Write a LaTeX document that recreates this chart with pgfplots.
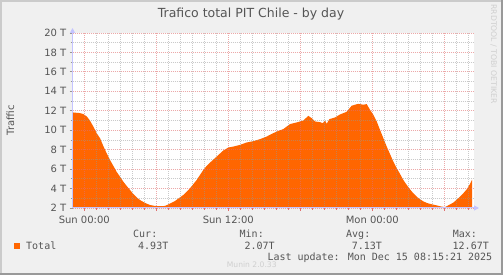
\documentclass[border=0pt]{standalone}
\usepackage{fontspec}
\setmainfont{DejaVu Sans}
\newfontfamily\monofont{DejaVu Sans Mono}
\usepackage{pgfplots}
\pgfplotsset{compat=1.18}
\usetikzlibrary{arrows.meta}
\definecolor{bg}{HTML}{F0F0F0}
\definecolor{shadea}{HTML}{CBCBCB}
\definecolor{shadeb}{HTML}{999999}
\definecolor{txt}{HTML}{555555}
\definecolor{area}{HTML}{FF6600}
\definecolor{axcol}{HTML}{C4C4FF}
\definecolor{mgrid}{HTML}{E07070}
\definecolor{ngrid}{HTML}{969696}
\definecolor{faint}{HTML}{CFCFCF}
\begin{document}
\begin{tikzpicture}
\useasboundingbox (0,0) rectangle (503bp,275bp);
\fill[bg] (0,0) rectangle (503bp,275bp);
\fill[shadea] (0,0) rectangle (2bp,275bp);
\fill[shadea] (0,273bp) rectangle (503bp,275bp);
\fill[shadeb] (501bp,0) rectangle (503bp,275bp);
\fill[shadeb] (0,0) rectangle (503bp,2bp);
\begin{axis}[
  at={(72.5bp,67bp)}, anchor=south west,
  scale only axis, width=401.5bp, height=175bp,
  xmin=-0.983, xmax=32.475, ymin=2, ymax=20,
  axis on top,
  axis background/.style={fill=white},
  axis x line*=bottom, axis y line*=left,
  x axis line style={draw=axcol, line width=1bp, -{Triangle[length=5bp,width=5bp]}, shorten >=-5bp},
  y axis line style={draw=axcol, line width=1bp, -{Triangle[length=5bp,width=5bp]}, shorten >=-5bp},
  xtick={0,6,12,18,24,30},
  xticklabels={Sun 00:00,{},Sun 12:00,{},Mon 00:00,{}},
  minor xtick={1,2,3,4,5,7,8,9,10,11,13,14,15,16,17,19,20,21,22,23,25,26,27,28,29,31,32},
  ytick={2,4,6,8,10,12,14,16,18,20},
  yticklabels={2 T,4 T,6 T,8 T,10 T,12 T,14 T,16 T,18 T,20 T},
  minor ytick={3,5,7,9,11,13,15,17,19},
  grid=both,
  major grid style={draw=mgrid, opacity=0.6, line width=0.8bp, dash pattern=on 1bp off 1bp},
  minor grid style={draw=ngrid, opacity=0.5, line width=0.8bp, dash pattern=on 1bp off 1bp},
  tick align=outside,
  major tick length=3bp, minor tick length=2bp,
  xtick style={draw=mgrid, line width=0.8bp},
  ytick style={draw=ngrid, line width=0.8bp},
  minor tick style={draw=ngrid},
  ticklabel style={font=\fontsize{10bp}{12bp}\selectfont, text=txt},
  xticklabel style={anchor=base, yshift=-13bp},
  yticklabel style={anchor=east, inner sep=0pt, xshift=-3bp},
  clip=true,
]
\addplot[fill=area, draw=none] coordinates {
(-0.983,11.83) (-0.36,11.76) (-0.08,11.66) (0.2,11.42) (0.47,11.0) (0.75,10.38)
(1.03,9.7) (1.31,9.18) (1.58,8.39) (1.86,7.64) (2.14,6.95) (2.42,6.33) (2.7,5.71)
(2.97,5.23) (3.25,4.71) (3.53,4.27) (3.81,3.86) (4.08,3.44) (4.36,3.1) (4.64,2.82)
(4.92,2.62) (5.2,2.45) (5.47,2.31) (5.89,2.21) (6.31,2.19) (6.72,2.21) (7.14,2.45)
(7.56,2.72) (8.25,3.34) (8.81,4.03) (9.37,4.89) (9.92,5.92) (10.2,6.33) (10.48,6.67)
(11.03,7.29) (11.58,7.91) (12.0,8.22) (12.42,8.32) (12.97,8.49) (13.53,8.74)
(14.08,8.87) (14.64,9.08) (15.2,9.35) (15.75,9.7) (16.25,9.97) (16.58,10.11)
(17.14,10.63) (17.7,10.8) (18.25,11.0) (18.67,11.48) (18.95,11.24) (19.23,10.9)
(19.64,10.83) (19.87,10.73) (20.06,11.0) (20.2,10.66) (20.42,11.14) (20.89,11.31)
(21.31,11.62) (21.87,11.9) (22.28,12.52) (22.83,12.72) (23.25,12.62) (23.53,12.69)
(23.81,12.1) (24.08,11.59) (24.37,10.9) (24.64,10.04) (24.92,9.18) (25.2,8.32)
(25.47,7.57) (25.75,6.78) (26.03,6.09) (26.31,5.51) (26.58,4.89) (26.87,4.37)
(27.14,3.92) (27.42,3.51) (27.7,3.17) (27.97,2.89) (28.25,2.69) (28.53,2.52)
(28.95,2.38) (29.37,2.27) (29.78,2.14) (30.06,2.1) (30.33,2.27) (30.75,2.55)
(31.17,3.0) (31.58,3.51) (31.87,3.92) (32.14,4.47) (32.28,4.82) (32.31,4.93)
} \closedcycle;
\end{axis}
% title and labels
\node[anchor=base, text=txt, font=\fontsize{12.5bp}{14bp}\selectfont] at (251bp,257bp) {Trafico total PIT Chile - by day};
\node[anchor=base, rotate=90, text=txt, font=\fontsize{10bp}{12bp}\selectfont] at (14bp,155bp) {Traffic};
\node[rotate=-90, text=faint, font=\fontsize{7.7bp}{9bp}\selectfont] at (493.7bp,221bp) {RRDTOOL / TOBI OETIKER};
\node[anchor=base west, inner sep=0pt, text=faint, font=\fontsize{7.6bp}{9bp}\selectfont] at (226.7bp,7.5bp) {Munin 2.0.33};
% legend
\fill[area] (14bp,26bp) rectangle (20bp,32bp);
\begin{scope}[every node/.style={anchor=base west, inner sep=0pt, text=txt, font=\monofont\fontsize{10bp}{12bp}\selectfont}]
\node at (26bp,26bp) {Total};
\node at (133bp,38bp) {Cur:};
\node at (138bp,26bp) {4.93T};
\node at (239.5bp,38bp) {Min:};
\node at (244.3bp,26bp) {2.07T};
\node at (346bp,38bp) {Avg:};
\node at (351.7bp,26bp) {7.13T};
\node at (452.7bp,38bp) {Max:};
\node at (452.5bp,26bp) {12.67T};
\node at (267.3bp,14.4bp) {Last update: Mon Dec 15 08:15:21 2025};
\end{scope}
\end{tikzpicture}
\end{document}
